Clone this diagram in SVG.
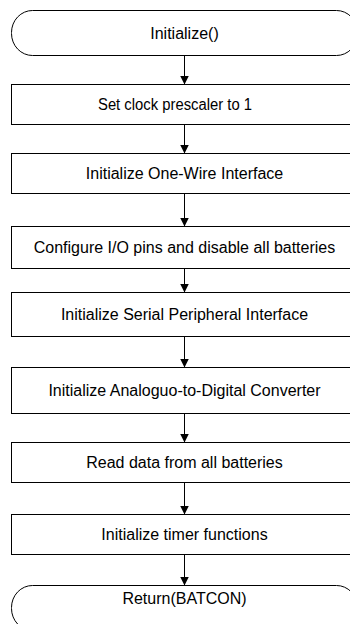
<svg xmlns="http://www.w3.org/2000/svg" width="350" height="624" viewBox="0 0 350 624">
<style>
.box{fill:#fff;stroke:#000;stroke-width:1}
.t{font-family:"Liberation Sans",Arial,sans-serif;font-size:16px;fill:#000;text-anchor:middle}
.c{stroke:#000;stroke-width:1;fill:none}
</style>
<defs>
<marker id="ah" markerUnits="userSpaceOnUse" markerWidth="10" markerHeight="10" refX="9" refY="4.5" orient="auto">
<path d="M0,0 L9,4.5 L0,9 z" fill="#000"/>
</marker>
</defs>
<rect width="350" height="624" fill="#fff"/>
<g id="connectors">
<path class="c" d="M184.5,55.5 V84.5" marker-end="url(#ah)"/>
<path class="c" d="M184.5,124.5 V153.5" marker-end="url(#ah)"/>
<path class="c" d="M184.5,193.5 V226.5" marker-end="url(#ah)"/>
<path class="c" d="M184.5,268.5 V292.5" marker-end="url(#ah)"/>
<path class="c" d="M184.5,336.5 V367.5" marker-end="url(#ah)"/>
<path class="c" d="M184.5,413.5 V442.5" marker-end="url(#ah)"/>
<path class="c" d="M184.5,482.5 V514.5" marker-end="url(#ah)"/>
<path class="c" d="M184.5,554.5 V585.5" marker-end="url(#ah)"/>
</g>
<g id="start">
<rect class="box" x="11.5" y="10.5" width="346" height="45" rx="21" ry="22"/>
<text class="t" x="184.5" y="38.5">Initialize()</text>
</g>
<g id="n1">
<rect class="box" x="11.5" y="84.5" width="346" height="40"/>
<text class="t" x="175" y="110" textLength="154" lengthAdjust="spacingAndGlyphs">Set clock prescaler to 1</text>
</g>
<g id="n2">
<rect class="box" x="11.5" y="153.5" width="346" height="40"/>
<text class="t" x="184.5" y="179">Initialize One-Wire Interface</text>
</g>
<g id="n3">
<rect class="box" x="11.5" y="226.5" width="346" height="42"/>
<text class="t" x="184.5" y="253">Configure I/O pins and disable all batteries</text>
</g>
<g id="n4">
<rect class="box" x="11.5" y="292.5" width="346" height="44"/>
<text class="t" x="184.5" y="320">Initialize Serial Peripheral Interface</text>
</g>
<g id="n5">
<rect class="box" x="11.5" y="367.5" width="346" height="46"/>
<text class="t" x="184.5" y="396">Initialize Analoguo-to-Digital Converter</text>
</g>
<g id="n6">
<rect class="box" x="11.5" y="442.5" width="346" height="40"/>
<text class="t" x="184.5" y="468">Read data from all batteries</text>
</g>
<g id="n7">
<rect class="box" x="11.5" y="514.5" width="346" height="40"/>
<text class="t" x="184.5" y="540">Initialize timer functions</text>
</g>
<g id="end">
<rect class="box" x="11.5" y="585.5" width="346" height="45" rx="21" ry="22"/>
<text class="t" x="184.5" y="603.5">Return(BATCON)</text>
</g>
</svg>
